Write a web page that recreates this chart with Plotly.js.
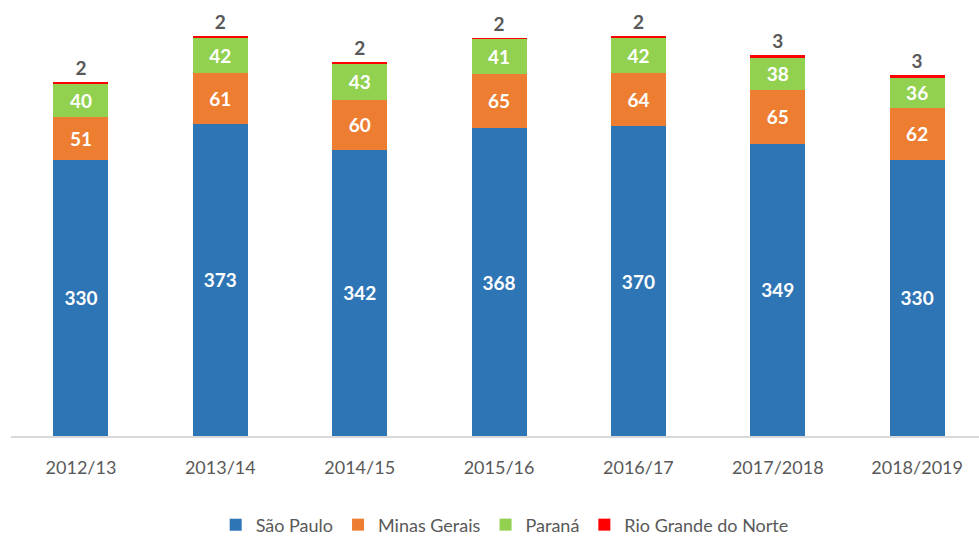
<!DOCTYPE html>
<html>
<head>
<meta charset="utf-8">
<script src="https://cdn.plot.ly/plotly-3.0.1.min.js"></script>
<style>html,body{margin:0;padding:0;background:#fff;}#chart{width:979px;height:539px;}</style>
</head>
<body>
<div id="chart"></div>
<script>
const categories = ["2012/13","2013/14","2014/15","2015/16","2016/17","2017/2018","2018/2019"];
const saoPaulo = [330,373,342,368,370,349,330];
const minasGerais = [51,61,60,65,64,65,62];
const parana = [40,42,43,41,42,38,36];
const rioGrande = [2,2,2,2,2,3,3];

const FONT = "Lato, 'Open Sans', sans-serif";
function inside(name, vals, color){
  return {
    type:'bar', name:name, x:categories, y:vals,
    marker:{color:color},
    text:vals.map(String), textposition:'inside', insidetextanchor:'middle',
    textangle:0, constraintext:'none',
    textfont:{family:FONT, size:19, color:'#ffffff', weight:'bold'},
    hoverinfo:'skip'
  };
}
const traces = [
  inside('São Paulo', saoPaulo, '#2e75b6'),
  inside('Minas Gerais', minasGerais, '#ed7d31'),
  inside('Paraná', parana, '#92d050'),
  {
    type:'bar', name:'Rio Grande do Norte', x:categories, y:rioGrande,
    marker:{color:'#ff0000'},
    text:rioGrande.map(String), textposition:'outside', textangle:0,
    constraintext:'none', cliponaxis:false,
    textfont:{family:FONT, size:19, color:'#595959', weight:'bold'},
    hoverinfo:'skip'
  }
];
const layout = {
  width:979, height:539,
  margin:{l:11, r:0, t:0, b:103, autoexpand:false},
  barmode:'stack', bargap:0.605,
  paper_bgcolor:'#ffffff', plot_bgcolor:'#ffffff',
  font:{family:FONT, color:'#595959', size:16},
  xaxis:{type:'category', range:[-0.502, 6.444], showline:true, linecolor:'#d9d9d9', linewidth:1.5,
         ticks:'', showgrid:false, zeroline:false, ticklabelstandoff:15,
         tickfont:{family:FONT, size:18, color:'#595959'}},
  yaxis:{range:[0, 521], visible:false, showgrid:false, zeroline:false},
  legend:{orientation:'h', x:0.51, xanchor:'center', y:-0.204, yanchor:'middle',
          font:{family:FONT, size:18, color:'#595959'}, traceorder:'normal', itemclick:false},
  showlegend:true
};
Plotly.newPlot('chart', traces, layout, {displayModeBar:false, staticPlot:true});
</script>
</body>
</html>
